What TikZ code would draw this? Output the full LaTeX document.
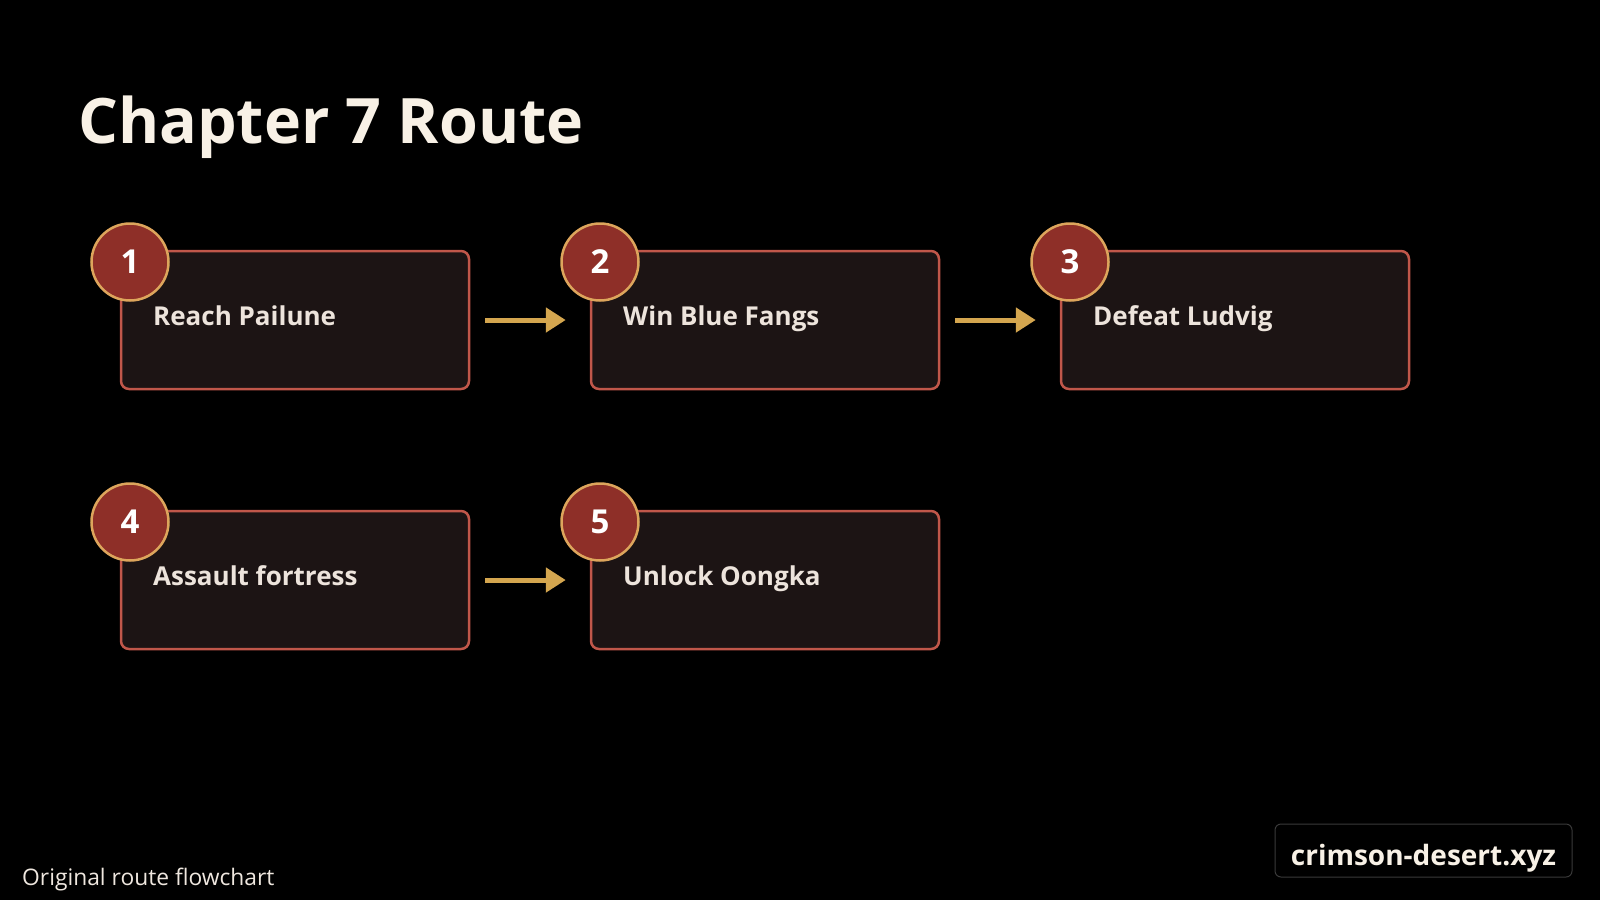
\documentclass[tikz,border=0pt]{standalone}
\usepackage{fontspec}
\setmainfont{Open Sans}
\usetikzlibrary{arrows.meta}
\definecolor{boxfill}{HTML}{1C1414}
\definecolor{boxline}{HTML}{C0574A}
\definecolor{circfill}{HTML}{8E2F28}
\definecolor{circline}{HTML}{DDA55C}
\definecolor{arrowcol}{HTML}{D4A64F}
\definecolor{titlecol}{HTML}{F8F1E6}
\definecolor{labelcol}{HTML}{EDE4DC}
\definecolor{footline}{HTML}{3A3A3A}
\tikzset{
  stepbox/.style={draw=boxline, fill=boxfill, line width=2.5pt, rounded corners=8pt,
    minimum width=348pt, minimum height=138pt, inner sep=0pt},
  numcirc/.style={circle, draw=circline, fill=circfill, line width=2.5pt,
    minimum size=77pt, inner sep=0pt, text=white,
    font=\fontsize{33}{36}\selectfont\bfseries},
  steplabel/.style={anchor=base west, inner sep=0pt, text=labelcol,
    font=\fontsize{26}{30}\selectfont\bfseries},
  flowarrow/.style={draw=arrowcol, line width=5pt,
    -{Triangle[length=20pt,width=24pt]}, shorten <=15pt, shorten >=24pt},
}
\begin{document}
\begin{tikzpicture}[x=1pt,y=-1pt]
\useasboundingbox[fill=black] (0,0) rectangle (1600,900);
% title
\node[anchor=base west, inner sep=0pt, text=titlecol,
  font=\fontsize{62.7}{70}\selectfont\bfseries] (title) at (78,143) {Chapter 7 Route};
% boxes
\node[stepbox] (b1) at (295,320) {};
\node[stepbox] (b2) at (765,320) {};
\node[stepbox] (b3) at (1235,320) {};
\node[stepbox] (b4) at (295,580) {};
\node[stepbox] (b5) at (765,580) {};
% labels
\node[steplabel] (t1) at (153,325) {Reach Pailune};
\node[steplabel] (t2) at (623,325) {Win Blue Fangs};
\node[steplabel] (t3) at (1093,325) {Defeat Ludvig};
\node[steplabel] (t4) at (153,585) {Assault fortress};
\node[steplabel] (t5) at (623,585) {Unlock Oongka};
% circles
\node[numcirc] (c1) at (130,262) {1};
\node[numcirc] (c2) at (600,262) {2};
\node[numcirc] (c3) at (1070,262) {3};
\node[numcirc] (c4) at (130,522) {4};
\node[numcirc] (c5) at (600,522) {5};
% arrows
\draw[flowarrow] (b1.east) -- (b2.west);
\draw[flowarrow] (b2.east) -- (b3.west);
\draw[flowarrow] (b4.east) -- (b5.west);
% footer
\node[anchor=base west, inner sep=0pt, text=labelcol!90!white,
  font=\fontsize{22.8}{26}\selectfont] (note) at (22,885) {Original route flowchart};
\node[draw=footline, fill=black, line width=1pt, rounded corners=6pt,
  minimum width=297pt, minimum height=53pt, inner sep=0pt] (sitebox) at (1423.5,850.5) {};
\node[anchor=base, inner sep=0pt, text=titlecol,
  font=\fontsize{28}{32}\selectfont\bfseries] (site) at (1423.5,865) {crimson-desert.xyz};
\end{tikzpicture}
\end{document}
